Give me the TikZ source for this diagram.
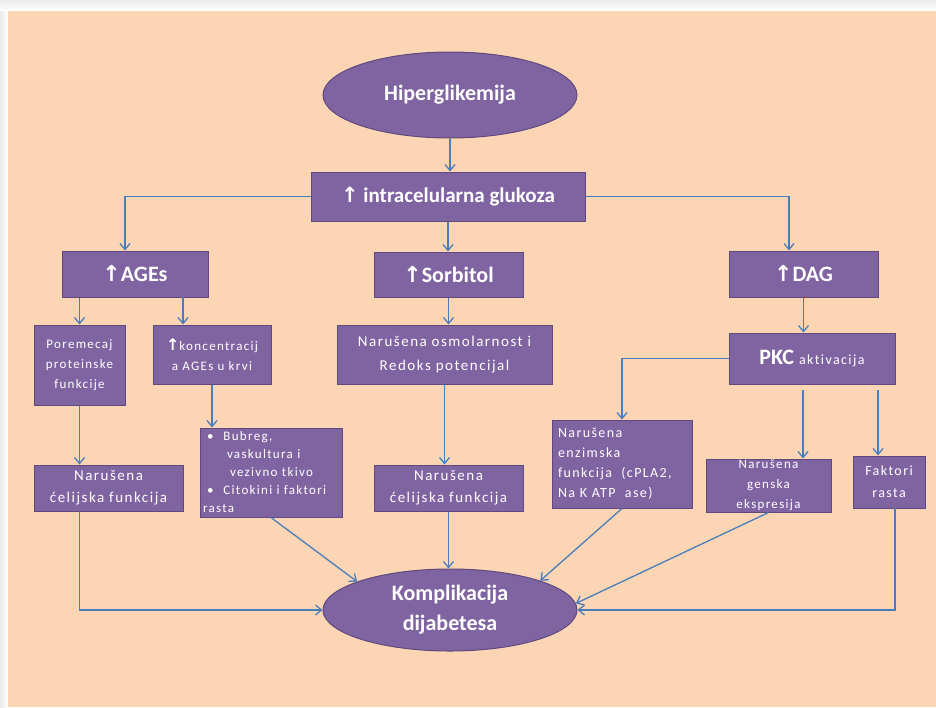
\documentclass[tikz,border=0pt]{standalone}
\usepackage{fontspec}
\setmainfont{Carlito}
\newfontfamily\symf{DejaVu Sans}
\newfontfamily\spf[LetterSpace=10,Ligatures=NoCommon]{Carlito}
\usetikzlibrary{shapes.geometric,arrows.meta,calc}
\definecolor{peach}{HTML}{FCD5B5}
\definecolor{purp}{HTML}{8064A2}
\definecolor{purpb}{HTML}{5E4A7E}
\definecolor{arr}{HTML}{4A7EBB}
\newcommand{\upar}{{\symf\bfseries\char"2191}}
\tikzset{
 box/.style={draw=purpb, line width=1pt, fill=purp, text=white, inner sep=1pt, align=center},
 oval/.style={ellipse, draw=purpb, line width=1pt, fill=purp, text=white, inner sep=0pt, align=center},
 conn/.style={draw=arr, line width=1.3pt, -{Straight Barb[length=6pt,width=10pt]}},
 bigf/.style={font=\fontsize{22}{30}\selectfont\bfseries},
 smallf/.style={font=\spf\fontsize{13}{20}\selectfont},
}
\begin{document}
\begin{tikzpicture}[x=1pt,y=-1pt]
\useasboundingbox (0,0) rectangle (936,707);
\fill[white] (0,0) rectangle (936,707);
\shade[top color=black!8, bottom color=white] (0,0) rectangle (936,11);
\shade[left color=black!8, right color=white] (0,11) rectangle (8,707);
\fill[peach] (8,11) rectangle (936,707);

% nodes
\node[oval, minimum width=254pt, minimum height=86pt, bigf] (hip) at (450,95) {Hiperglikemija};
\node[box, minimum width=274pt, minimum height=49pt, font=\fontsize{21}{25}\selectfont\bfseries] (glu) at (448,196.5) {\upar\ intracelularna glukoza};
\node[box, minimum width=146pt, minimum height=46pt, bigf] (ages) at (135,274) {\upar AGEs};
\node[box, minimum width=149pt, minimum height=45pt, bigf] (sorb) at (448.5,274.5) {\upar Sorbitol};
\node[box, minimum width=149pt, minimum height=46pt, bigf] (dag) at (803.5,274) {\upar DAG};
\node[box, minimum width=91pt, minimum height=80pt, smallf] (por) at (79.5,365) {Poremecaj\\proteinske\\funkcije};
\node[box, minimum width=118pt, minimum height=59pt, smallf] (konc) at (212,354.5) {{\fontsize{16}{20}\selectfont\upar}koncentracij\\a AGEs u krvi};
\node[box, minimum width=215pt, minimum height=59pt, font=\spf\fontsize{15}{24}\selectfont] (osm) at (444.5,354.5) {Narušena osmolarnost i\\Redoks potencijal};
\node[box, minimum width=166pt, minimum height=51pt] (pkc) at (812,358.5) {{\fontsize{22}{26}\selectfont\bfseries PKC}\hspace{5pt}{\spf\fontsize{14}{18}\selectfont aktivacija}};
\node[box, minimum width=149pt, minimum height=46pt, font=\spf\fontsize{15}{22}\selectfont] (nc1) at (108.5,488) {Narušena\\ćelijska funkcija};
\node[box, minimum width=142pt, minimum height=89pt, text width=136pt, align=left, font=\spf\fontsize{13}{18}\selectfont] (bub) at (271,472.5) {\hspace*{4pt}\textbullet\hspace{10pt}Bubreg,\\\hspace*{24pt}vaskultura i\\\hspace*{27pt}vezivno tkivo\\\hspace*{4pt}\textbullet\hspace{10pt}Citokini i faktori\\rasta};
\node[box, minimum width=149pt, minimum height=46pt, font=\spf\fontsize{15}{22}\selectfont] (nc2) at (448.5,488) {Narušena\\ćelijska funkcija};
\node[box, minimum width=140pt, minimum height=88pt, text width=128pt, align=left, font=\spf\fontsize{14}{20}\selectfont] (enz) at (622,464) {Narušena\\enzimska\\funkcija\ \ (cPLA2,\\Na K ATP\ \ ase)};
\node[box, minimum width=125pt, minimum height=51pt, font=\spf\fontsize{13}{20}\selectfont] (gen) at (768.5,485.5) {Narušena\\genska\\ekspresija};
\node[box, minimum width=72pt, minimum height=52pt, font=\spf\fontsize{14}{22}\selectfont] (fak) at (889,482) {Faktori\\rasta};
\node[oval, minimum width=254pt, minimum height=82pt, font=\fontsize{22}{30}\selectfont\bfseries] (kom) at (450,610) {Komplikacija\\dijabetesa};

% helper coordinates
\coordinate (a1) at (125,197);
\coordinate (d1) at (789,197);
\coordinate (k1) at (183,297);
\coordinate (p1) at (803,390);
\coordinate (p2) at (878,390);
\coordinate (f1) at (895,508);

% connectors
\draw[conn] (hip.south) -- (hip.south |- glu.north);
\draw[conn] (glu.west) -| (a1 |- ages.north);
\draw[conn] (glu.east) -| (d1 |- dag.north);
\draw[conn] (glu.south) -- (glu.south |- sorb.north);
\draw[conn] (por.north |- ages.south) -- (por.north);
\draw[conn] (k1) -- (k1 |- konc.north);
\draw[conn] (sorb.south) -- (sorb.south |- osm.north);
\draw[conn] (dag.south) -- (dag.south |- pkc.north);
\draw[conn] (por.south) -- (por.south |- nc1.north);
\draw[conn] (konc.south) -- (konc.south |- bub.north);
\draw[conn] (osm.south) -- (osm.south |- nc2.north);
\draw[conn] (pkc.west) -| (enz.north);
\draw[conn] (p1) -- (p1 |- gen.north);
\draw[conn] (p2) -- (p2 |- fak.north);
\draw[conn] (nc1.south -| por.south) |- (kom.west);
\draw[conn] (bub.south) -- (kom.163);
\draw[conn] (nc2.south) -- (nc2.south |- kom.north);
\draw[conn] (enz.south) -- (kom.18);
\draw[conn] (gen.south) -- (kom.3);
\draw[conn] (f1) |- (kom.east);
\end{tikzpicture}
\end{document}
